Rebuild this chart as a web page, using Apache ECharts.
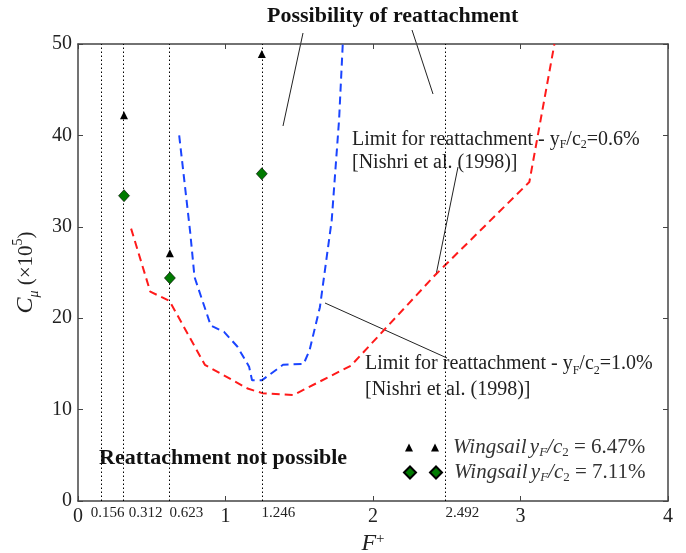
<!DOCTYPE html>
<html>
<head>
<meta charset="utf-8">
<script src="https://cdn.jsdelivr.net/npm/echarts@6/dist/echarts.min.js"></script>
<style>
  html, body { margin: 0; padding: 0; background: #fff; }
  #chart { width: 686px; height: 553px; }
</style>
</head>
<body>
<div id="chart"></div>
<script>
// Forcing frequencies tested on the wingsail
const forcingF = [0.312, 0.623, 1.246];
// Minimum momentum coefficient for reattachment, yF/c2 = 6.47 %
const cmuWing647 = [42.2, 27.1, 48.9];
// Minimum momentum coefficient for reattachment, yF/c2 = 7.11 %
const cmuWing711 = [33.4, 24.4, 35.8];

// Reference frequencies (dotted verticals)
const refF = [0.156, 0.312, 0.623, 1.246, 2.492];
const refLabels = ['0.156', '0.312', '0.623', '1.246', '2.492'];

// Nishri et al. (1998) limit, yF/c2 = 0.6 %
const limit06F   = [0.36, 0.49, 0.62, 0.86, 1.15, 1.25, 1.46, 1.85, 2.42, 3.06, 3.23];
const limit06Cmu = [29.8, 22.9, 21.9, 14.9, 12.3, 11.8, 11.6, 14.8, 24.7, 34.9, 50.0];

// Nishri et al. (1998) limit, yF/c2 = 1.0 %
const limit10F   = [0.686, 0.76, 0.79, 0.90, 0.99, 1.08, 1.16, 1.18, 1.246, 1.39, 1.53, 1.57, 1.64, 1.72, 1.77, 1.795];
const limit10Cmu = [40.0, 29.5, 24.5, 19.2, 18.5, 16.9, 14.7, 13.2, 13.2, 14.9, 15.0, 16.5, 21.2, 30.7, 41.7, 50.0];

// Axis ticks
const xTicks = [0, 1, 2, 3, 4];
const yTicks = [0, 10, 20, 30, 40, 50];

const pairs = (xs, ys) => xs.map((x, i) => [x, ys[i]]);

const SERIF = '"Liberation Serif", "Times New Roman", serif';
const AXIS_COLOR = '#444';
const TEXT_COLOR = '#222';

const label647 = 'Wingsail yF/c2 = 6.47%';
const label711 = 'Wingsail yF/c2 = 7.11%';

const legendRich = {
  i: { fontFamily: SERIF, fontStyle: 'italic', fontSize: 21, color: '#333', lineHeight: 24 },
  s: { fontFamily: SERIF, fontStyle: 'italic', fontSize: 13, color: '#333', verticalAlign: 'bottom', lineHeight: 24 },
  n: { fontFamily: SERIF, fontSize: 13, color: '#333', verticalAlign: 'bottom', lineHeight: 24 },
  t: { fontFamily: SERIF, fontSize: 21, color: '#333', lineHeight: 24 }
};
function legendText(pct) {
  return '{i|Wingsail} {i|y}{s|F}{i|/c}{n|2}{t| = ' + pct + '%}';
}

const chart = echarts.init(document.getElementById('chart'));

const labelShift = [6, 22, 17, 16, 17];
const refLineData = refF.map((f, i) => ({
  xAxis: f,
  label: {
    show: true,
    position: 'start',
    formatter: refLabels[i],
    fontFamily: SERIF,
    fontSize: 15,
    color: TEXT_COLOR,
    distance: 5,
    offset: [labelShift[i], 0]
  }
}));

const axisLine = { show: true, onZero: false, lineStyle: { color: AXIS_COLOR, width: 1.5 } };
const axisTick = { show: true, inside: true, length: 5, lineStyle: { color: AXIS_COLOR, width: 1 } };

const option = {
  animation: false,
  backgroundColor: '#fff',
  grid: { left: 78, right: 18, top: 44, bottom: 52, containLabel: false, outerBoundsMode: 'none' },
  legend: [
    {
      data: [{ name: label647, icon: 'path://M0,8 L4,0 L8,8 Z M26,8 L30,0 L34,8 Z' }],
      left: 405, top: 437,
      itemWidth: 34, itemHeight: 8, itemGap: 0, padding: 0,
      selectedMode: false,
      formatter: () => legendText('6.47'),
      textStyle: { rich: legendRich, padding: [0, 0, 0, 9] }
    },
    {
      data: [{ name: label711, icon: 'path://M0,6 L6,0 L12,6 L6,12 Z M26,6 L32,0 L38,6 L32,12 Z' }],
      left: 403, top: 462,
      itemWidth: 38, itemHeight: 12, itemGap: 0, padding: 0,
      selectedMode: false,
      formatter: () => legendText('7.11'),
      textStyle: { rich: legendRich, padding: [0, 0, 0, 7] }
    }
  ],
  xAxis: [
    {
      type: 'value', min: xTicks[0], max: xTicks[xTicks.length - 1], interval: 1,
      name: '{f|F}{p|+}', nameLocation: 'middle', nameGap: 28,
      nameTextStyle: {
        rich: {
          f: { fontFamily: SERIF, fontStyle: 'italic', fontSize: 24, color: TEXT_COLOR, lineHeight: 24 },
          p: { fontFamily: SERIF, fontSize: 15, color: TEXT_COLOR, verticalAlign: 'top', lineHeight: 24 }
        }
      },
      axisLine: axisLine,
      axisTick: axisTick,
      axisLabel: { fontFamily: SERIF, fontSize: 20, color: TEXT_COLOR, margin: 6, showMinLabel: true, showMaxLabel: true },
      splitLine: { show: false }
    },
    {
      type: 'value', position: 'top', min: xTicks[0], max: xTicks[xTicks.length - 1], interval: 1,
      axisLine: axisLine,
      axisTick: axisTick,
      axisLabel: { show: false },
      splitLine: { show: false }
    }
  ],
  yAxis: [
    {
      type: 'value', min: yTicks[0], max: yTicks[yTicks.length - 1], interval: 10,
      name: '{c|C}{m|\u03bc} (\u00d710{p|5})',
      nameLocation: 'middle', nameRotate: 90, nameGap: 37,
      nameTextStyle: {
        fontFamily: SERIF, fontSize: 21, color: TEXT_COLOR,
        rich: {
          c: { fontFamily: SERIF, fontStyle: 'italic', fontSize: 24, color: TEXT_COLOR, lineHeight: 30 },
          m: { fontFamily: SERIF, fontStyle: 'italic', fontSize: 14, color: TEXT_COLOR, verticalAlign: 'bottom', lineHeight: 30 },
          p: { fontFamily: SERIF, fontSize: 14, color: TEXT_COLOR, verticalAlign: 'top', lineHeight: 30 }
        }
      },
      axisLine: axisLine,
      axisTick: axisTick,
      axisLabel: { fontFamily: SERIF, fontSize: 20, color: TEXT_COLOR, margin: 6 },
      splitLine: { show: false }
    },
    {
      type: 'value', position: 'right', min: yTicks[0], max: yTicks[yTicks.length - 1], interval: 10,
      axisLine: axisLine,
      axisTick: axisTick,
      axisLabel: { show: false },
      splitLine: { show: false }
    }
  ],
  series: [
    {
      name: 'limit06',
      type: 'line',
      data: pairs(limit06F, limit06Cmu),
      showSymbol: false, symbol: 'none', silent: true, z: 3,
      lineStyle: { color: '#ff1a1a', width: 2, type: [8, 5] }
    },
    {
      name: 'limit10',
      type: 'line',
      data: pairs(limit10F, limit10Cmu),
      showSymbol: false, symbol: 'none', silent: true, z: 3,
      lineStyle: { color: '#1a44ff', width: 2, type: [8, 5] }
    },
    {
      name: label647,
      type: 'scatter',
      data: pairs(forcingF, cmuWing647),
      symbol: 'triangle', symbolSize: [8, 8],
      itemStyle: { color: '#000', opacity: 1 },
      z: 5,
      markLine: {
        silent: true,
        symbol: ['none', 'none'],
        lineStyle: { color: '#000', width: 1, type: [1.5, 2.5], opacity: 1 },
        data: refLineData,
        animation: false
      }
    },
    {
      name: label711,
      type: 'scatter',
      data: pairs(forcingF, cmuWing711),
      symbol: 'diamond', symbolSize: [11, 12],
      itemStyle: { color: '#007a00', borderColor: '#000', borderWidth: 0.6, opacity: 1 },
      z: 6
    }
  ],
  graphic: [
    {
      type: 'text', left: 267, top: 5,
      style: { text: 'Possibility of reattachment', font: 'bold 22px ' + SERIF, fill: '#111' }
    },
    { type: 'line', shape: { x1: 303, y1: 33, x2: 283, y2: 126 }, style: { stroke: '#222', lineWidth: 1 } },
    { type: 'line', shape: { x1: 412, y1: 30, x2: 433, y2: 94 }, style: { stroke: '#222', lineWidth: 1 } },
    {
      type: 'text', left: 352, top: 128,
      style: {
        text: 'Limit for reattachment - y{s|F}/c{s|2}=0.6%\n[Nishri et al. (1998)]',
        font: '20px ' + SERIF, fill: '#222', lineHeight: 23,
        rich: { s: { fontFamily: SERIF, fontSize: 12, fill: '#222', verticalAlign: 'bottom', lineHeight: 23 } }
      }
    },
    { type: 'line', shape: { x1: 458, y1: 167, x2: 436, y2: 275 }, style: { stroke: '#222', lineWidth: 1 } },
    { type: 'line', shape: { x1: 325, y1: 303, x2: 447, y2: 358 }, style: { stroke: '#222', lineWidth: 1 } },
    {
      type: 'text', left: 365, top: 351,
      style: {
        text: 'Limit for reattachment - y{s|F}/c{s|2}=1.0%\n[Nishri et al. (1998)]',
        font: '20px ' + SERIF, fill: '#222', lineHeight: 26,
        rich: { s: { fontFamily: SERIF, fontSize: 12, fill: '#222', verticalAlign: 'bottom', lineHeight: 26 } }
      }
    },
    {
      type: 'text', left: 99, top: 447,
      style: { text: 'Reattachment not possible', font: 'bold 22px ' + SERIF, fill: '#111' }
    }
  ]
};

chart.setOption(option);
</script>
</body>
</html>
